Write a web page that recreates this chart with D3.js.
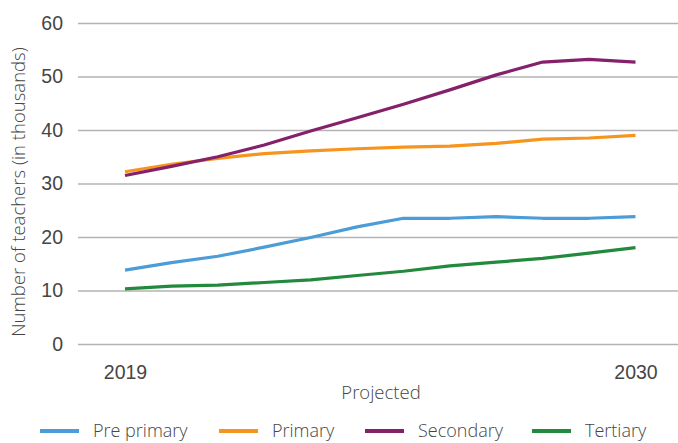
<!DOCTYPE html>
<html>
<head>
<meta charset="utf-8">
<script src="https://cdn.jsdelivr.net/npm/d3@7"></script>
<style>
  html, body { margin: 0; padding: 0; background: #fff; }
  svg { display: block; font-family: "Open Sans", "Noto Sans", sans-serif; }
</style>
</head>
<body>
<svg id="chart" width="678" height="443"></svg>
<script>
// Projected number of teachers by level, 2019–2030 (thousands)
const years = [2019, 2020, 2021, 2022, 2023, 2024, 2025, 2026, 2027, 2028, 2029, 2030];
const prePrimary = [13.8, 15.2, 16.4, 18.1, 19.9, 21.9, 23.5, 23.5, 23.8, 23.5, 23.5, 23.8];
const primary    = [32.2, 33.6, 34.7, 35.6, 36.1, 36.5, 36.8, 37.0, 37.5, 38.3, 38.5, 39.0];
const secondary  = [31.5, 33.2, 35.0, 37.2, 39.8, 42.3, 44.8, 47.5, 50.3, 52.7, 53.2, 52.7];
const tertiary   = [10.3, 10.8, 11.0, 11.5, 12.0, 12.8, 13.6, 14.6, 15.3, 16.0, 17.0, 18.0];
const seriesNames = ["Pre primary", "Primary", "Secondary", "Tertiary"];
const yTicks = [0, 10, 20, 30, 40, 50, 60];
const xTickLabels = [2019, 2030];

const colors = ["#4b9cd7", "#f7941d", "#85206b", "#23893c"];
const seriesData = [prePrimary, primary, secondary, tertiary];

const svg = d3.select("#chart");
const textColor = "#454545";

const x = d3.scaleLinear().domain([2019, 2030]).range([125, 635.5]);
const y = d3.scaleLinear().domain([0, 60]).range([344, 23]);

// horizontal gridlines with value labels
const yAxis = d3.axisLeft(y).tickValues(yTicks).tickSize(-600).tickPadding(15).tickFormat(d3.format("d"));
const gy = svg.append("g").attr("transform", "translate(78,0)").call(yAxis);
gy.select(".domain").remove();
gy.selectAll(".tick line").attr("stroke", "#b3b3b3").attr("stroke-width", 1.5);
gy.selectAll(".tick text")
  .attr("fill", textColor)
  .attr("font-size", 19.5)
  .attr("font-weight", 300);

// x axis: only the end years are labelled
const xAxis = d3.axisBottom(x).tickValues(xTickLabels).tickSize(0).tickPadding(0).tickFormat(d3.format("d"));
const gx = svg.append("g").attr("transform", "translate(0,365)").call(xAxis);
gx.select(".domain").remove();
gx.selectAll(".tick text")
  .attr("fill", textColor)
  .attr("font-size", 19.5)
  .attr("font-weight", 300)
  .attr("dy", "0.71em");

svg.append("text")
  .attr("x", 381).attr("y", 399)
  .attr("text-anchor", "middle")
  .attr("fill", textColor)
  .attr("font-size", 18.5)
  .attr("font-weight", 300)
  .text("Projected");

svg.append("text")
  .attr("transform", "translate(25,192) rotate(-90)")
  .attr("text-anchor", "middle")
  .attr("fill", textColor)
  .attr("font-size", 18.5)
  .attr("font-weight", 300)
  .text("Number of teachers (in thousands)");

// series lines
const line = d3.line()
  .x((d, i) => x(years[i]))
  .y(d => y(d));

svg.append("g")
  .selectAll("path")
  .data(seriesData)
  .join("path")
  .attr("d", line)
  .attr("fill", "none")
  .attr("stroke", (d, i) => colors[i])
  .attr("stroke-width", 3.2)
  .attr("stroke-linejoin", "round");

// legend
const legendX = [40, 219, 365, 532];
const legend = svg.append("g").attr("transform", "translate(0,431)");
const items = legend.selectAll("g")
  .data(seriesNames)
  .join("g")
  .attr("transform", (d, i) => `translate(${legendX[i]},0)`);
items.append("line")
  .attr("x1", 0).attr("x2", 39)
  .attr("y1", 0).attr("y2", 0)
  .attr("stroke", (d, i) => colors[i])
  .attr("stroke-width", 4);
items.append("text")
  .attr("x", 53).attr("y", 0)
  .attr("dy", "0.33em")
  .attr("fill", textColor)
  .attr("font-size", 18)
  .attr("font-weight", 300)
  .text(d => d);
</script>
</body>
</html>
